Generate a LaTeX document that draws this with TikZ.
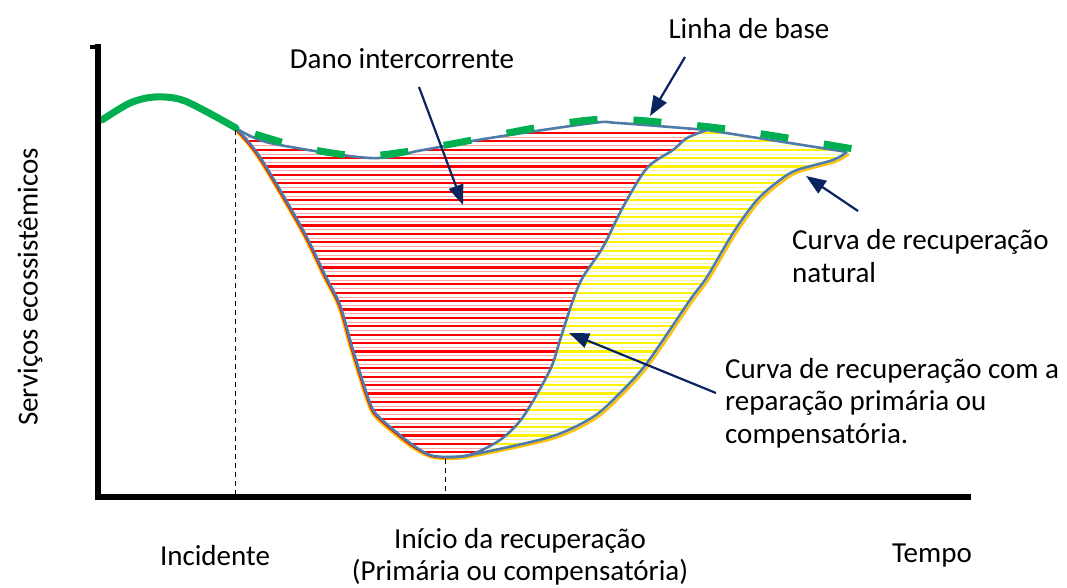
\documentclass[tikz,border=0pt]{standalone}
\usepackage{fontspec}
\setmainfont{Carlito}
\usetikzlibrary{arrows.meta}
\definecolor{base}{HTML}{00B050}
\definecolor{outl}{HTML}{4F7BA8}
\definecolor{navy}{HTML}{0A2460}
\definecolor{hred}{HTML}{FF0000}
\definecolor{hyel}{HTML}{FFF200}
\definecolor{orng}{HTML}{FFC000}
\tikzset{
  lbl/.style={font=\fontsize{29}{32.5}\selectfont, inner sep=0pt},
  pointer/.style={draw=navy, line width=2.2pt, -{Triangle[length=20pt,width=15pt]}},
  outline/.style={draw=outl, line width=2.6pt, line join=round},
  axis/.style={draw=black, line width=6pt},
  guide/.style={draw=black, line width=0.9pt, dash pattern=on 5pt off 4pt},
}
\begin{document}
\begin{tikzpicture}[x=1pt,y=-1pt]
\useasboundingbox (0,0) rectangle (1067,588);

% red hatch region
\begin{scope}
\clip plot[smooth] coordinates {(236,128) (260,157) (303,230) (325,275) (340,305) (353,350) (370,403) (380,418) (410,443) (430,455) (447,457)}
 -- plot[smooth] coordinates {(447,457) (470,455) (500,440) (523,417) (550,370) (560,340) (573,300) (583,277) (603,247) (623,207) (647,168) (673,150) (687,138) (707,130)}
 -- plot[smooth] coordinates {(707,130) (618,123) (593,123) (490,138) (423,150) (370,158) (270,143) (236,128)} -- cycle;
\foreach \yy in {0,...,40} {
  \draw[hred, line width=2.2pt] (220,{133+8.4*\yy}) -- (720,{133+8.4*\yy});
  \draw[hred!35, line width=0.6pt] (220,{137.2+8.4*\yy}) -- (720,{137.2+8.4*\yy});
}
\end{scope}

% yellow hatch region
\begin{scope}
\clip plot[smooth] coordinates {(447,457) (470,455) (500,440) (523,417) (550,370) (560,340) (573,300) (583,277) (603,247) (623,207) (647,168) (673,150) (687,138) (707,130)}
 -- (847,152)
 -- plot[smooth] coordinates {(847,152) (833,160) (797,170) (780,180) (757,200) (733,233) (707,277) (690,300) (647,363) (620,393) (593,417) (550,437) (470,455) (447,457)} -- cycle;
\foreach \yy in {0,...,40} {
  \draw[hyel, line width=2.2pt] (430,{133+8.4*\yy}) -- (860,{133+8.4*\yy});
  \draw[hyel!40, line width=0.6pt] (430,{137.2+8.4*\yy}) -- (860,{137.2+8.4*\yy});
}
\end{scope}

% coloured shadow lines
\draw[orng, line width=2.2pt] plot[smooth] coordinates {(234,129) (258,158) (301,231) (323,276) (338,306) (351,351) (368,404) (378,420) (408,445) (430,457) (447,459)};
\draw[hred, line width=1.4pt] plot[smooth] coordinates {(235,129) (259,158) (302,231) (324,276) (339,306) (352,351) (369,404) (379,419) (409,444) (430,456) (447,458)};
\draw[orng, line width=2.2pt] plot[smooth] coordinates {(849,154) (835,162) (799,172) (782,182) (759,202) (735,235) (709,279) (692,302) (649,365) (622,395) (595,419) (552,439) (470,457) (447,459)};

% outlines
\draw[outline] plot[smooth] coordinates {(236,128) (270,143) (370,158) (423,150) (490,138) (593,123) (618,123) (707,130)} -- (847,152);
\draw[outline] plot[smooth] coordinates {(236,128) (260,157) (303,230) (325,275) (340,305) (353,350) (370,403) (380,418) (410,443) (430,455) (447,457)};
\draw[outline] plot[smooth] coordinates {(447,457) (470,455) (500,440) (523,417) (550,370) (560,340) (573,300) (583,277) (603,247) (623,207) (647,168) (673,150) (687,138) (707,130)};
\draw[outline] plot[smooth] coordinates {(847,152) (833,160) (797,170) (780,180) (757,200) (733,233) (707,277) (690,300) (647,363) (620,393) (593,417) (550,437) (470,455) (447,457)};

% baseline
\draw[base, line width=7pt, line cap=round] plot[smooth] coordinates {(102,120) (130,103) (155,97) (185,101) (236,128)};
\draw[base, line width=7pt, dash pattern=on 28pt off 36pt, dash phase=-20pt] plot[smooth] coordinates {(236,128) (300,147) (365,156) (440,146) (540,127) (605,119) (670,123) (735,130) (800,140) (877,153)};

% guides
\coordinate (inc) at (235,497);
\coordinate (incTop) at (235,130);
\coordinate (rec) at (445,497);
\coordinate (recTop) at (445,459);
\draw[guide] (incTop) -- (inc);
\draw[guide] (recTop) -- (rec);

% axes
\coordinate (O) at (98,497);
\coordinate (yTop) at (98,47);
\coordinate (xEnd) at (968,497);
\coordinate (flag) at (90,47);
\draw[axis, line cap=rect] (yTop) -- (O) -- (xEnd);
\draw[axis, line width=4pt] (flag) -- (yTop);

% labels
\node[lbl] (lb) at (749,29) {Linha de base};
\node[lbl] (di) at (402,59) {Dano intercorrente};
\node[lbl, anchor=west, align=left] (cn) at (792,256) {Curva de recuperação\\natural};
\node[lbl, anchor=west, align=left] (cr) at (725,403) {Curva de recuperação com a\\reparação primária ou\\compensatória.};
\node[lbl, rotate=90] (ys) at (30,287) {Serviços ecossistêmicos};
\node[lbl] (ti) at (215,556) {Incidente};
\node[lbl, align=center] (tr) at (520,557) {Início da recuperação\\(Primária ou compensatória)};
\node[lbl] (tt) at (932,556) {Tempo};

% pointers
\coordinate (pLb) at (685,57);
\coordinate (tLb) at (650,116);
\coordinate (pDi) at (419,87);
\coordinate (tDi) at (463,205);
\coordinate (pCn) at (858,211);
\coordinate (tCn) at (806,176);
\coordinate (pCr) at (716,393);
\coordinate (tCr) at (569,333);
\draw[pointer] (pLb) -- (tLb);
\draw[pointer] (pDi) -- (tDi);
\draw[pointer] (pCn) -- (tCn);
\draw[pointer] (pCr) -- (tCr);
\end{tikzpicture}
\end{document}
